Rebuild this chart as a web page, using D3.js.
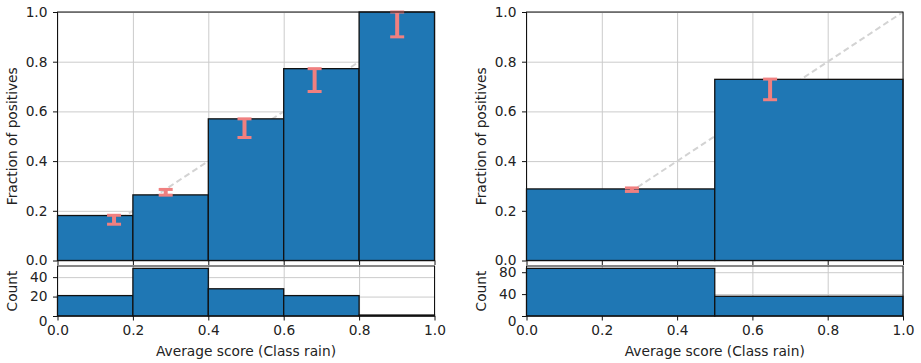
<!DOCTYPE html>
<html>
<head>
<meta charset="utf-8">
<script src="https://cdn.jsdelivr.net/npm/d3@7.9.0/dist/d3.min.js"></script>
<style>
  body { margin: 0; background: #fff; }
  svg { display: block; }
</style>
</head>
<body>
<svg id="chart" width="921" height="363"></svg>
<script>
// ------------------- Data -------------------
const tickValues = [0, 0.2, 0.4, 0.6, 0.8, 1.0];

const leftEdges = [0, 0.2, 0.4, 0.6, 0.8, 1.0];
const leftFraction = [0.181, 0.264, 0.570, 0.772, 1.0];
const leftErrX = [0.150, 0.287, 0.496, 0.682, 0.901];
const leftErrLow = [0.146, 0.263, 0.495, 0.680, 0.900];
const leftErrHigh = [0.182, 0.286, 0.570, 0.772, 1.0];
const leftCounts = [21, 49, 28, 21, 1];
const leftCountTicks = [0, 20, 40];

const rightEdges = [0, 0.5, 1.0];
const rightFraction = [0.288, 0.729];
const rightErrX = [0.280, 0.647];
const rightErrLow = [0.278, 0.647];
const rightErrHigh = [0.292, 0.730];
const rightCounts = [87, 36];
const rightCountTicks = [0, 40, 80];

const xLabel = 'Average score (Class rain)';
const yLabelTop = 'Fraction of positives';
const yLabelBottom = 'Count';

const barColor = '#1f77b4';
const errColor = '#f08080';
const gridColor = '#cbcbcb';
const fontFamily = '"DejaVu Sans", sans-serif';
const fontSize = 13.75;

const svg = d3.select('#chart');

function styleTicks(a) {
  a.attr('font-family', fontFamily).attr('font-size', fontSize);
  a.selectAll('text').attr('fill', '#222');
}

// ------------------- Panel -------------------
function drawPanel(p) {
  const x = d3.scaleLinear().domain([0, 1]).range([p.left, p.right]);
  const y = d3.scaleLinear().domain([0, 1]).range([260.5, 12]);
  const yc = d3.scaleLinear().domain([0, d3.max(p.counts) * 1.05]).range([316, 266]);

  const bins = p.edges.slice(0, -1).map((e, i) => ({
    x0: e, x1: p.edges[i + 1], frac: p.frac[i], count: p.counts[i]
  }));
  const errs = p.errX.map((v, i) => ({ x: v, lo: p.errLow[i], hi: p.errHigh[i] }));

  const g = svg.append('g');

  // grid - top
  g.append('g').attr('transform', `translate(0,${y(0)})`)
    .call(d3.axisBottom(x).tickValues(tickValues).tickFormat('').tickSize(y(1) - y(0)))
    .call(a => { a.select('.domain').remove(); a.selectAll('line').attr('stroke', gridColor); });
  g.append('g').attr('transform', `translate(${p.left},0)`)
    .call(d3.axisLeft(y).tickValues(tickValues).tickFormat('').tickSize(p.left - p.right))
    .call(a => { a.select('.domain').remove(); a.selectAll('line').attr('stroke', gridColor); });

  // grid - bottom
  g.append('g').attr('transform', `translate(0,${yc.range()[0]})`)
    .call(d3.axisBottom(x).tickValues(tickValues).tickFormat('').tickSize(266 - 316))
    .call(a => { a.select('.domain').remove(); a.selectAll('line').attr('stroke', gridColor); });
  g.append('g').attr('transform', `translate(${p.left},0)`)
    .call(d3.axisLeft(yc).tickValues(p.countTicks).tickFormat('').tickSize(p.left - p.right))
    .call(a => { a.select('.domain').remove(); a.selectAll('line').attr('stroke', gridColor); });

  // diagonal reference
  g.append('line')
    .attr('x1', x(0)).attr('y1', y(0)).attr('x2', x(1)).attr('y2', y(1))
    .attr('stroke', '#d3d3d3').attr('stroke-width', 2).attr('stroke-dasharray', '6,3.5');

  // bars
  g.append('g').selectAll('rect').data(bins).join('rect')
    .attr('x', d => x(d.x0)).attr('y', d => y(d.frac))
    .attr('width', d => x(d.x1) - x(d.x0)).attr('height', d => y(0) - y(d.frac))
    .attr('fill', barColor).attr('stroke', '#111').attr('stroke-width', 1.3);

  g.append('g').selectAll('rect').data(bins).join('rect')
    .attr('x', d => x(d.x0)).attr('y', d => yc(d.count))
    .attr('width', d => x(d.x1) - x(d.x0)).attr('height', d => yc(0) - yc(d.count))
    .attr('fill', barColor).attr('stroke', '#111').attr('stroke-width', 1.3);

  // error bars
  const eb = g.append('g').selectAll('g').data(errs).join('g')
    .attr('stroke', errColor);
  eb.append('line')
    .attr('x1', d => x(d.x)).attr('x2', d => x(d.x))
    .attr('y1', d => y(d.lo)).attr('y2', d => y(d.hi)).attr('stroke-width', 4);
  eb.append('line')
    .attr('x1', d => x(d.x) - 7).attr('x2', d => x(d.x) + 7)
    .attr('y1', d => y(d.lo)).attr('y2', d => y(d.lo)).attr('stroke-width', 3);
  eb.append('line')
    .attr('x1', d => x(d.x) - 7).attr('x2', d => x(d.x) + 7)
    .attr('y1', d => y(d.hi)).attr('y2', d => y(d.hi)).attr('stroke-width', 3);

  // spines
  [[y(1), y(0)], [266, 316]].forEach(([t, b]) => {
    g.append('rect').attr('x', p.left).attr('y', t)
      .attr('width', p.right - p.left).attr('height', b - t)
      .attr('fill', 'none').attr('stroke', '#111').attr('stroke-width', 1);
  });

  // axes
  g.append('g').attr('transform', `translate(${p.left},0)`)
    .call(d3.axisLeft(y).tickValues(tickValues).tickFormat(d3.format('.1f')).tickSize(4.5).tickPadding(5.5))
    .call(a => a.select('.domain').remove())
    .call(styleTicks);
  g.append('g').attr('transform', `translate(0,${y(0)})`)
    .call(d3.axisBottom(x).tickValues(tickValues).tickFormat('').tickSize(4.5))
    .call(a => a.select('.domain').remove());
  g.append('g').attr('transform', `translate(${p.left},0)`)
    .call(d3.axisLeft(yc).tickValues(p.countTicks).tickSize(4.5).tickPadding(5.5))
    .call(a => {
      a.select('.domain').remove();
      a.selectAll('.tick').filter(d => d === 0).select('text').attr('dy', '0.68em');
    })
    .call(styleTicks);
  g.append('g').attr('transform', `translate(0,316)`)
    .call(d3.axisBottom(x).tickValues(tickValues).tickFormat(d3.format('.1f')).tickSize(4.5).tickPadding(5))
    .call(a => a.select('.domain').remove())
    .call(styleTicks);

  g.selectAll('.tick line').filter(function () { return this.getAttribute('stroke') !== gridColor; })
    .attr('stroke', '#111');

  // labels
  const lab = g.append('g').attr('font-family', fontFamily).attr('font-size', fontSize)
    .attr('fill', '#222').attr('text-anchor', 'middle');
  lab.append('text').attr('x', (p.left + p.right) / 2).attr('y', 355.5).text(xLabel);
  lab.append('text').attr('transform', `translate(${p.left - 40.5},${(y(0) + y(1)) / 2}) rotate(-90)`)
    .text(yLabelTop);
  lab.append('text').attr('transform', `translate(${p.left - 40.5},291) rotate(-90)`)
    .text(yLabelBottom);
}

drawPanel({
  left: 57.5, right: 434.5, edges: leftEdges, frac: leftFraction,
  errX: leftErrX, errLow: leftErrLow, errHigh: leftErrHigh,
  counts: leftCounts, countTicks: leftCountTicks
});
drawPanel({
  left: 526.5, right: 903, edges: rightEdges, frac: rightFraction,
  errX: rightErrX, errLow: rightErrLow, errHigh: rightErrHigh,
  counts: rightCounts, countTicks: rightCountTicks
});
</script>
</body>
</html>
